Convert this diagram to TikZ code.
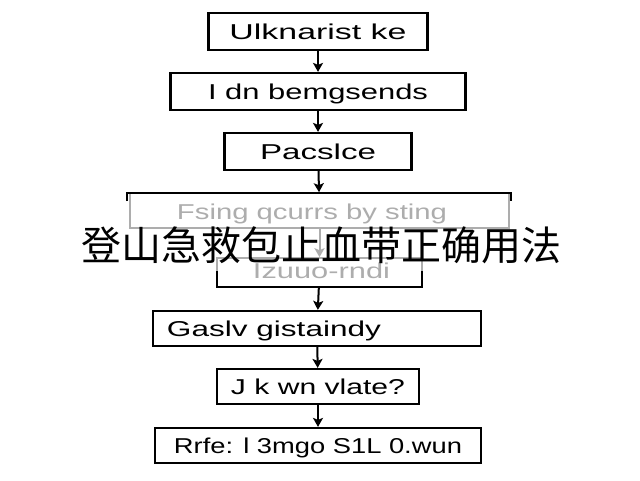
\documentclass[tikz,border=0pt]{standalone}
\usepackage{fontspec}
\setmainfont{Liberation Sans}
\newfontfamily\cjk{Noto Sans CJK SC}
\usetikzlibrary{arrows.meta}
\newcommand{\fitw}[2]{\resizebox{#1}{\height}{#2}}
\definecolor{fade}{gray}{0.68}
\begin{document}
\begin{tikzpicture}[x=1pt,y=-1pt,
  box/.style={draw=black,line width=2.2pt,minimum height=37pt,inner sep=0pt,
    text height=15pt,text depth=0pt,font=\fontsize{21.5}{24}\selectfont},
  gbox/.style={box,draw=fade,line width=1.6pt,text=fade},
  lbl/.style={inner sep=0pt,text height=15pt,text depth=0pt,font=\fontsize{21.5}{24}\selectfont},
  arr/.style={line width=2pt,-{Stealth[length=9pt,width=10pt,inset=2pt]}},
  garr/.style={arr,draw=fade},
  brk/.style={line width=2.2pt,draw=black}]
\fill[white] (0,0) rectangle (640,480);
\useasboundingbox (0,0) rectangle (640,480);

\node[box,minimum width=219pt] (b1) at (318,31.5) {\fitw{177pt}{Ulknarist ke}};
\node[box,minimum width=295pt] (b2) at (318,91.5) {\fitw{220pt}{I dn bemgsends}};
\node[box,minimum width=187pt] (b3) at (318,151.5) {\fitw{116pt}{Pacslce}};

\node[gbox,minimum width=379pt,minimum height=35pt] (b4) at (319.5,210.5) {};
\node[lbl,text=fade] (t4) at (312,211.5) {\fitw{270pt}{Fsing qcurrs by sting}};
\node[gbox,minimum width=205pt,minimum height=29pt] (b5) at (319.5,272.5) {};
\node[lbl,text=fade] (t5) at (321.5,270.5) {\fitw{137pt}{Izuuo-rndi}};

\coordinate (k1) at (127,201);
\coordinate (k2) at (127,193);
\coordinate (k3) at (511,193);
\coordinate (k4) at (511,201);
\draw[brk] (k1) -- (k2) -- (k3) -- (k4);
\coordinate (m1) at (217,271);
\coordinate (m2) at (217,287);
\coordinate (m3) at (422,287);
\coordinate (m4) at (422,271);
\draw[brk] (m1) -- (m2) -- (m3) -- (m4);

\node[box,minimum width=328pt,minimum height=35pt] (b6) at (317,328.5) {};
\node[lbl] (t6) at (274,329) {\fitw{214pt}{Gaslv gistaindy}};
\node[box,minimum width=202pt,minimum height=35pt] (b7) at (318,386.5) {\fitw{174pt}{J k wn vlate?}};
\node[box,minimum width=326pt,minimum height=35pt] (b8) at (318,445.5) {\fitw{288pt}{Rrfe: l 3mgo S1L 0.wun}};

\draw[arr] (b1) -- (b2);
\draw[arr] (b2) -- (b3);
\draw[arr] (b3) -- (b4);
\draw[garr] (b4) -- (b5);
\draw[arr] (b5) -- (b6);
\draw[arr] (b6) -- (b7);
\draw[arr] (b7) -- (b8);

\node[inner sep=0pt,font=\cjk\fontsize{40}{44}\selectfont] (title) at (321,245) {登山急救包止血带正确用法};
\end{tikzpicture}
\end{document}
